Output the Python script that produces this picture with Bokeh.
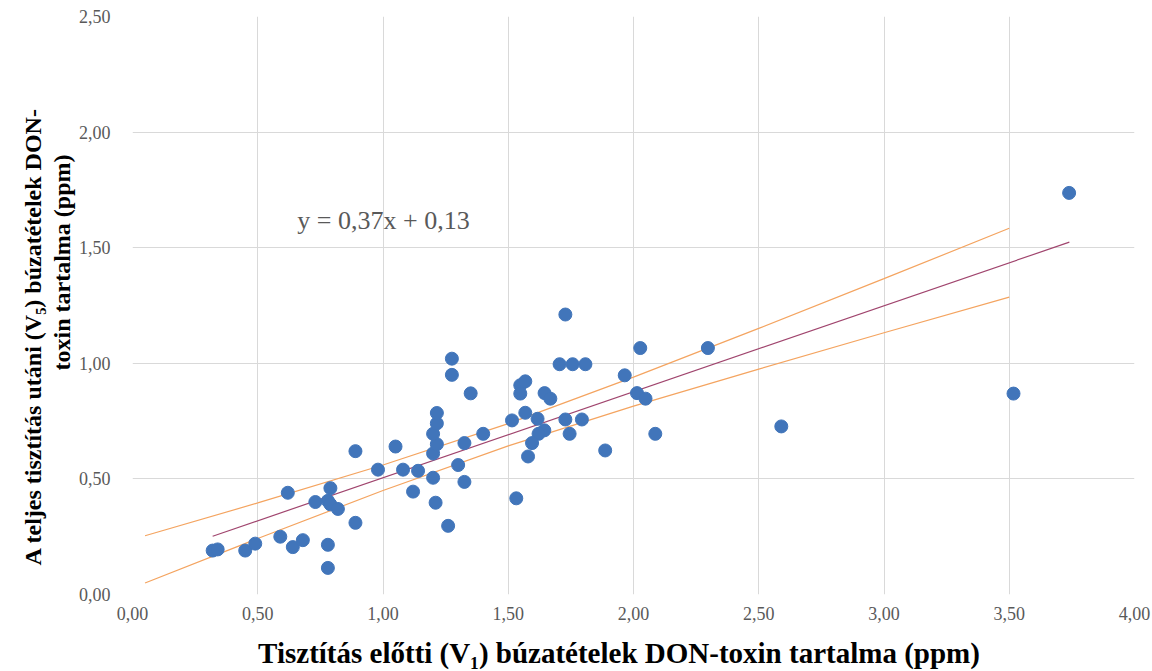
from bokeh.plotting import figure
from bokeh.models import Range1d, Label, FixedTicker, Title
from bokeh.embed import file_html
from bokeh.resources import INLINE

# --- data ---
x_vals = [0.32, 0.34, 0.45, 0.49, 0.59, 0.62, 0.64, 0.68, 0.73, 0.78, 0.79, 0.79, 0.82, 0.78, 0.78,
          0.89, 0.89, 0.98, 1.05, 1.08, 1.14, 1.12, 1.20, 1.20, 1.215, 1.20, 1.215, 1.215, 1.21, 1.26,
          1.275, 1.275, 1.35, 1.30, 1.325, 1.325, 1.40, 1.515, 1.548, 1.568, 1.548, 1.645, 1.668, 1.568,
          1.617, 1.728, 1.794, 1.745, 1.644, 1.621, 1.595, 1.579, 1.887, 1.532, 1.728, 1.705, 1.757,
          1.808, 1.965, 2.027, 2.014, 2.048, 2.087, 2.297, 2.590, 3.517, 3.739]
y_vals = [0.19, 0.195, 0.19, 0.22, 0.25, 0.44, 0.205, 0.235, 0.40, 0.405, 0.39, 0.46, 0.37, 0.215, 0.115,
          0.62, 0.31, 0.54, 0.64, 0.54, 0.535, 0.445, 0.505, 0.61, 0.65, 0.695, 0.74, 0.785, 0.397, 0.297,
          1.02, 0.95, 0.87, 0.56, 0.655, 0.487, 0.695, 0.753, 0.905, 0.922, 0.869, 0.871, 0.847, 0.786,
          0.760, 0.757, 0.757, 0.695, 0.71, 0.695, 0.655, 0.597, 0.623, 0.416, 1.211, 0.996, 0.996,
          0.996, 0.948, 1.066, 0.871, 0.847, 0.695, 1.066, 0.727, 0.869, 1.737]

fit_x = [0.32, 3.74]
fit_y = [0.252, 1.524]

band_x = [0.05, 0.5, 1.0, 1.5, 2.0, 2.5, 3.0, 3.5]
band_upper = [0.254, 0.396, 0.560, 0.739, 0.940, 1.151, 1.366, 1.584]
band_lower = [0.050, 0.242, 0.450, 0.643, 0.815, 0.975, 1.132, 1.286]

x_ticks = [0.0, 0.5, 1.0, 1.5, 2.0, 2.5, 3.0, 3.5, 4.0]
x_tick_labels = ["0,00", "0,50", "1,00", "1,50", "2,00", "2,50", "3,00", "3,50", "4,00"]
y_ticks = [0.0, 0.5, 1.0, 1.5, 2.0, 2.5]
y_tick_labels = ["0,00", "0,50", "1,00", "1,50", "2,00", "2,50"]

equation_text = "y = 0,37x + 0,13"
x_title = "Tisztítás előtti (V\u2081) búzatételek DON-toxin tartalma (ppm)"
y_title_1 = "A teljes tisztítás utáni (V\u2085) búzatételek DON-"
y_title_2 = "toxin tartalma (ppm)"

NBSP = "\u00a0"
SERIF = "Liberation Serif"

p = figure(width=1152, height=671, x_range=Range1d(0, 4), y_range=Range1d(0, 2.5),
           output_backend="svg", toolbar_location=None,
           min_border_left=132, min_border_right=18, min_border_top=16, min_border_bottom=77)
p.outline_line_color = None
p.background_fill_color = "white"
p.border_fill_color = "white"

for ax in (p.xaxis[0], p.yaxis[0]):
    ax.axis_line_color = None
    ax.major_tick_line_color = None
    ax.minor_tick_line_color = None
    ax.major_tick_out = 0
    ax.minor_tick_out = 0
    ax.major_label_text_font = SERIF
    ax.major_label_text_font_size = "18px"
    ax.major_label_text_color = "#595959"
    ax.axis_label_text_font = SERIF
    ax.axis_label_text_font_style = "bold"
    ax.axis_label_text_color = "black"

p.xaxis.ticker = FixedTicker(ticks=x_ticks)
p.yaxis.ticker = FixedTicker(ticks=y_ticks)
p.xaxis.major_label_overrides = {t: l for t, l in zip(x_ticks, x_tick_labels)}
p.yaxis.major_label_overrides = {t: l for t, l in zip(y_ticks, y_tick_labels)}
p.xaxis.major_label_standoff = 12
p.yaxis.major_label_standoff = 22

# trailing spaces shift the centred title slightly left, as in the reference
p.xaxis.axis_label = x_title + NBSP * 4
p.xaxis.axis_label_text_font_size = "29px"
p.xaxis.axis_label_standoff = 14

# y-axis title: two lines, each placed as its own title on the left side
t2 = Title(text=y_title_2, align="left", offset=224, standoff=2,
           text_font=SERIF, text_font_style="bold", text_font_size="24px", text_color="black")
t1 = Title(text=y_title_1, align="left", offset=29, standoff=0,
           text_font=SERIF, text_font_style="bold", text_font_size="24px", text_color="black")
p.add_layout(t2, "left")
p.add_layout(t1, "left")

p.xgrid.ticker = FixedTicker(ticks=x_ticks)
p.ygrid.ticker = FixedTicker(ticks=y_ticks)
p.grid.grid_line_color = "#D9D9D9"
p.grid.grid_line_width = 1

# confidence band and regression line
p.line(band_x, band_upper, line_color="#F4A460", line_width=1.2)
p.line(band_x, band_lower, line_color="#F4A460", line_width=1.2)
p.line(fit_x, fit_y, line_color="#A0456E", line_width=1.2)

p.scatter(x_vals, y_vals, size=13, fill_color="#4175BA", line_color="#4175BA")

p.add_layout(Label(x=0.658, y=1.619, text=equation_text, text_font=SERIF,
                   text_font_size="26px", text_color="#595959", text_baseline="middle"))

open("out.html", "w").write(file_html(p, INLINE))
